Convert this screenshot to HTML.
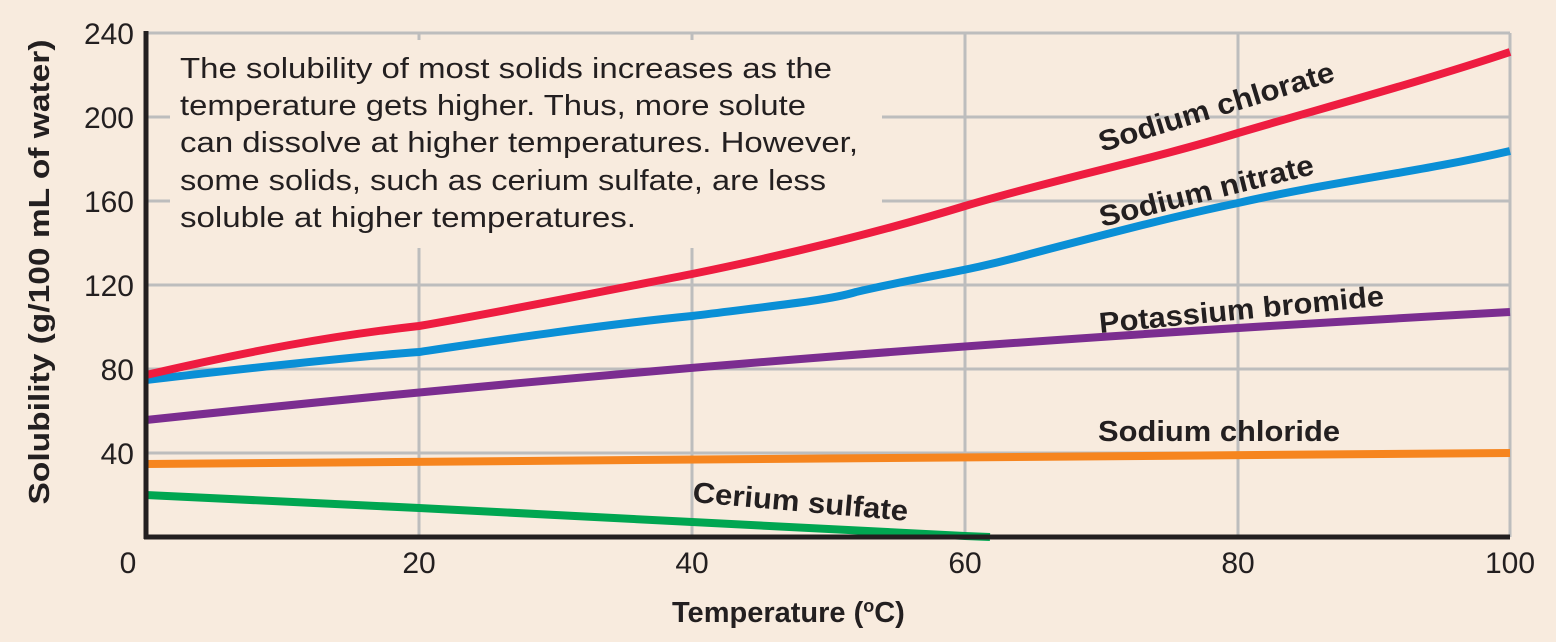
<!DOCTYPE html>
<html><head><style>
html,body{margin:0;padding:0;background:#f8ebde;}
svg{display:block;font-family:"Liberation Sans",sans-serif;}
</style></head><body>
<svg width="1556" height="642" viewBox="0 0 1556 642" xmlns="http://www.w3.org/2000/svg">
<rect width="1556" height="642" fill="#f8ebde"/>
<g stroke="#bdbdbd" stroke-width="3" fill="none">
<line x1="146" y1="33" x2="1510" y2="33"/>
<line x1="146" y1="117" x2="1510" y2="117"/>
<line x1="146" y1="201" x2="1510" y2="201"/>
<line x1="146" y1="285" x2="1510" y2="285"/>
<line x1="146" y1="369" x2="1510" y2="369"/>
<line x1="146" y1="453" x2="1510" y2="453"/>
<line x1="419" y1="33" x2="419" y2="537"/>
<line x1="692" y1="33" x2="692" y2="537"/>
<line x1="965" y1="33" x2="965" y2="537"/>
<line x1="1238" y1="33" x2="1238" y2="537"/>
<line x1="1510" y1="33" x2="1510" y2="537"/>
</g>
<rect x="170" y="40" width="712" height="208" fill="#f8ebde"/>
<g font-size="29" fill="#231f20">
<text x="180" y="78" textLength="652" lengthAdjust="spacingAndGlyphs">The solubility of most solids increases as the</text>
<text x="180" y="115" textLength="626" lengthAdjust="spacingAndGlyphs">temperature gets higher. Thus, more solute</text>
<text x="180" y="152" textLength="678" lengthAdjust="spacingAndGlyphs">can dissolve at higher temperatures. However,</text>
<text x="180" y="190" textLength="646" lengthAdjust="spacingAndGlyphs">some solids, such as cerium sulfate, are less</text>
<text x="180" y="227" textLength="456" lengthAdjust="spacingAndGlyphs">soluble at higher temperatures.</text>
</g>
<g fill="none" stroke-width="8" stroke-linecap="butt">
<path d="M146,495 L419,508 L692,522 L965,536 L990,537" stroke="#00a651"/>
<path d="M146,464 L1510,453" stroke="#f6851f"/>
<path d="M146,420 C600,372 1000,340 1510,312" stroke="#7b2d90"/>
<path d="M146,380 C250,368 350,357 419,352 C500,340 600,325 692,316 C780,305 830,300 856,292 C930,275 965,272 1030,254 C1130,228 1180,215 1238,203 C1330,182 1420,172 1510,151" stroke="#0a8fd6"/>
<path d="M146,375 C250,351 330,336 419,326 C500,312 600,292 692,274 C780,256 880,232 965,206 C1060,178 1150,160 1238,133 C1330,106 1420,82 1510,52" stroke="#ee1c40"/>
</g>
<line x1="146" y1="31" x2="146" y2="539" stroke="#231f20" stroke-width="5"/>
<line x1="144" y1="537" x2="1510" y2="537" stroke="#231f20" stroke-width="5"/>
<g font-size="29" font-weight="bold" fill="#231f20">
<text transform="translate(1102,152) rotate(-17)" textLength="245" lengthAdjust="spacingAndGlyphs">Sodium chlorate</text>
<text transform="translate(1102,227) rotate(-14)" textLength="220" lengthAdjust="spacingAndGlyphs">Sodium nitrate</text>
<text transform="translate(1100,333) rotate(-5.5)" textLength="286" lengthAdjust="spacingAndGlyphs">Potassium bromide</text>
<text x="1098" y="441" textLength="242" lengthAdjust="spacingAndGlyphs">Sodium chloride</text>
<text transform="translate(692,502) rotate(5)" textLength="216" lengthAdjust="spacingAndGlyphs">Cerium sulfate</text>
</g>
<g font-size="30" fill="#231f20" text-anchor="end">
<text x="134" y="44">240</text>
<text x="134" y="128">200</text>
<text x="134" y="212">160</text>
<text x="134" y="296">120</text>
<text x="134" y="380">80</text>
<text x="134" y="464">40</text>
</g>
<g font-size="30" fill="#231f20" text-anchor="middle">
<text x="128" y="573">0</text>
<text x="419" y="573">20</text>
<text x="692" y="573">40</text>
<text x="965" y="573">60</text>
<text x="1238" y="573">80</text>
<text x="1510" y="573">100</text>
</g>
<text x="672" y="622" font-size="29" font-weight="bold" fill="#231f20">Temperature (<tspan font-size="18" dy="-10">o</tspan><tspan dy="10">C)</tspan></text>
<text transform="translate(49,272) rotate(-90)" font-size="29" font-weight="bold" fill="#231f20" text-anchor="middle" textLength="465" lengthAdjust="spacingAndGlyphs">Solubility (g/100 mL of water)</text>
</svg>
</body></html>
